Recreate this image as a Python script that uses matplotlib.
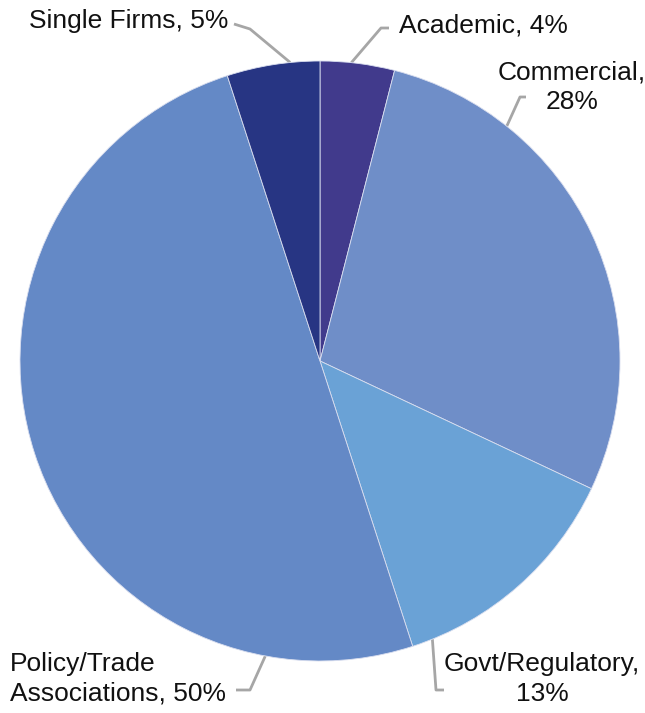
import numpy as np
import matplotlib.pyplot as plt

labels = ["Academic", "Commercial", "Govt/Regulatory", "Policy/Trade\nAssociations", "Single Firms"]
shares = [4, 28, 13, 50, 5]
colors = ["#413a8c", "#6f8ec8", "#6aa2d6", "#6489c6", "#273583"]

W, H = 645, 713
fig = plt.figure(figsize=(W / 100, H / 100), dpi=100)
ax = fig.add_axes([0, 0, 1, 1])

cx, cy, r = 320, H - 361, 300
ax.pie(shares, colors=colors, startangle=90, counterclock=False,
       center=(cx, cy), radius=r, frame=True,
       wedgeprops=dict(edgecolor="#d9deef", linewidth=0.6))
ax.set_xlim(0, W)
ax.set_ylim(0, H)
ax.set_aspect("equal")
ax.axis("off")

# label text: (x, y in image rows, alignment); leader: angle on rim, elbow, tail
layout = [
    (399, 25, "left", 84.0, (381, 28), (389, 28)),
    (572, 87, "center", 51.5, (520, 97), (526, 97)),
    (542, 679, "center", -68.0, (436, 690), (444, 690)),
    (10, 679, "left", -100.5, (250, 690), (236, 690)),
    (228, 21, "right", 95.7, (250, 29), (234, 24)),
]

for name, pct, (tx, ty, ha, ang, elbow, tail) in zip(labels, shares, layout):
    if name in ("Commercial", "Govt/Regulatory"):
        text = f"{name},\n{pct}%"
    else:
        text = f"{name}, {pct}%"
    ax.text(tx, H - ty, text, ha=ha, va="center", fontsize=19,
            family="Liberation Sans", color="#111111", linespacing=1.28,
            multialignment="center" if ha == "center" else "left")
    a = np.radians(ang)
    px, py = cx + r * np.cos(a), cy + r * np.sin(a)
    xs = [px, elbow[0], tail[0]]
    ys = [py, H - elbow[1], H - tail[1]]
    ax.plot(xs, ys, color="#a6a6a6", linewidth=2, solid_capstyle="butt", zorder=0)

fig.savefig("out.png", dpi=100, facecolor="white")
